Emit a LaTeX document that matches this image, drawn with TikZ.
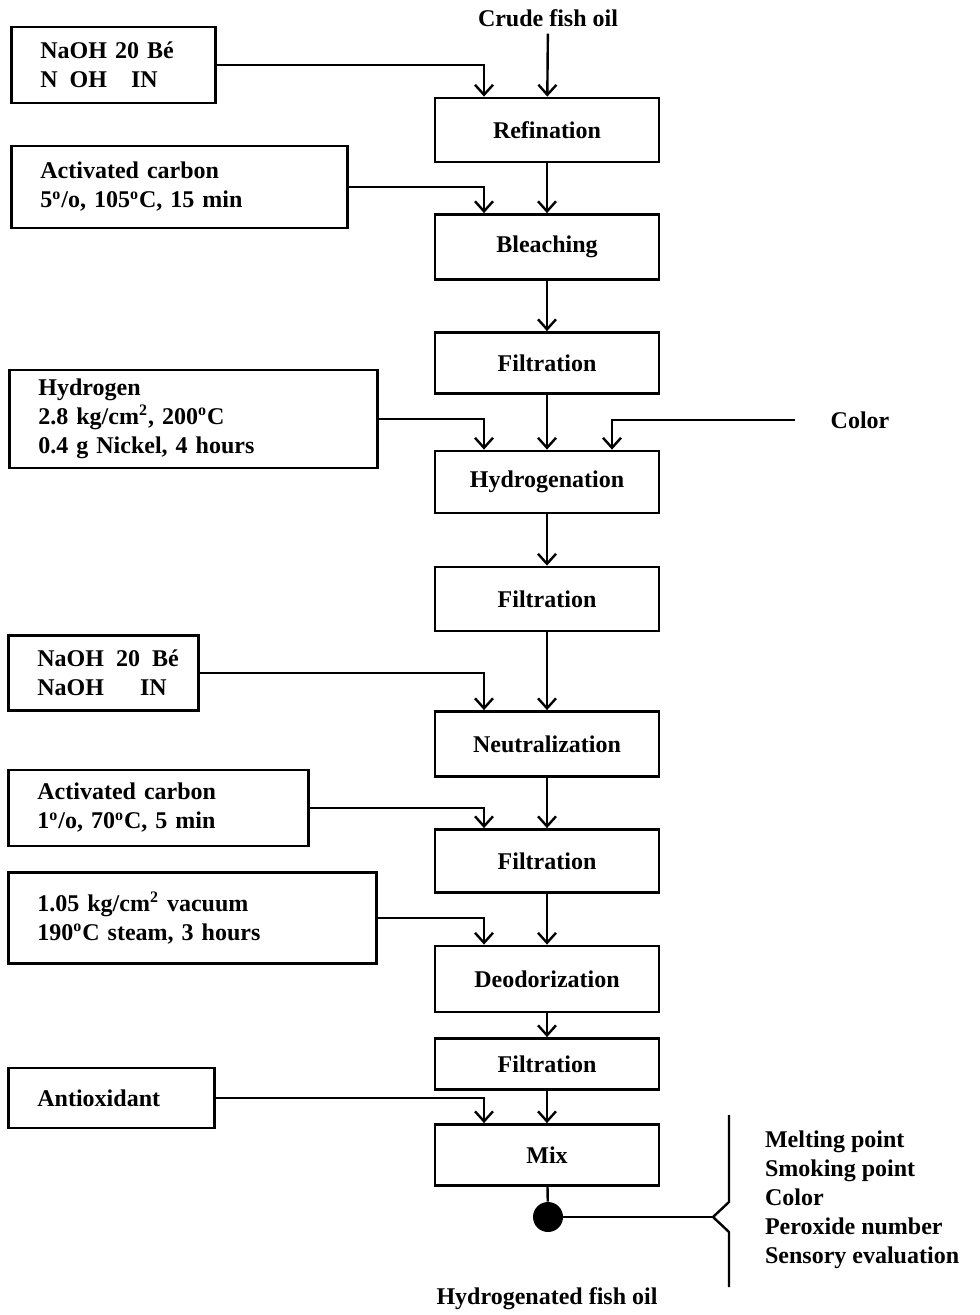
\documentclass[tikz,border=0pt]{standalone}
\usepackage{fontspec}
\setmainfont{Liberation Serif}
\usetikzlibrary{arrows.meta}
\begin{document}
\begin{tikzpicture}[x=0.5pt,y=-0.5pt,
  every node/.style={font=\fontsize{12}{14.5}\selectfont\bfseries},
  stepbox/.style={draw,line width=1.4pt,minimum width=112pt,minimum height=32pt,inner sep=0pt},
  inbox/.style={draw,line width=1.4pt,anchor=west,align=left,inner xsep=14.5pt,inner ysep=0pt},
  flow/.style={line width=1.2pt,-{Straight Barb[length=5pt,width=9pt,line width=1.2pt]}},
  line/.style={line width=1.2pt}]
\useasboundingbox (0,0) rectangle (979,1315);

\node (crude) at (548,18) {Crude fish oil};
\node[stepbox] (refin) at (547,130) {Refination};
\node[stepbox,minimum height=32.5pt] (bleach) at (547,247) {Bleaching};
\node[stepbox,minimum height=30.5pt] (filt1) at (547,363) {Filtration};
\node[stepbox,minimum height=31pt] (hydro) at (547,482) {Hydrogenation};
\node[stepbox] (filt2) at (547,599) {Filtration};
\node[stepbox,minimum height=32.5pt] (neutr) at (547,744) {Neutralization};
\node[stepbox,minimum height=31.5pt] (filt3) at (547,861) {Filtration};
\node[stepbox,minimum height=33pt] (deodor) at (547,979) {Deodorization};
\node[stepbox,minimum height=25.5pt] (filt4) at (547,1064) {Filtration};
\node[stepbox,minimum height=30.5pt] (mix) at (547,1155) {Mix};
\node[circle,fill,inner sep=0pt,minimum size=15pt] (dot) at (548,1217) {};
\node (product) at (547,1299) {Hydrogenated fish oil};

\node[inbox,text width=73pt,minimum height=38pt] (naoha) at (10,65) {NaOH 20 B\'e\\N\enspace OH\quad IN};
\node[inbox,text width=139pt,minimum height=41pt] (carbona) at (10,187) {Activated carbon\\5\textsuperscript{o}/o, 105\textsuperscript{o}C, 15 min};
\node[inbox,text width=155pt,minimum height=49pt] (hydrogen) at (8,419) {Hydrogen\\2.8 kg/cm\textsuperscript{2}, 200\textsuperscript{o}C\\0.4 g Nickel, 4 hours};
\node[inbox,text width=66pt,minimum height=37.5pt] (naohb) at (7,673) {NaOH\enspace 20\enspace B\'e\\NaOH\quad\enspace IN};
\node[inbox,text width=121pt,minimum height=38pt] (carbonb) at (7,808) {Activated carbon\\1\textsuperscript{o}/o, 70\textsuperscript{o}C, 5 min};
\node[inbox,text width=155pt,minimum height=45.5pt] (vacuum) at (7,918) {1.05 kg/cm\textsuperscript{2} vacuum\\190\textsuperscript{o}C steam, 3 hours};
\node[inbox,text width=74pt,minimum height=30pt] (antiox) at (7,1098) {Antioxidant};

\node (color) at (860,420) {Color};
\coordinate (colorin) at (795,420);
\coordinate (brace) at (713,1217);
\node[anchor=west,align=left] (tests) at (758,1200) {Melting point\\Smoking point\\Color\\Peroxide number\\Sensory evaluation};

\draw[flow] (crude) -- (refin);
\draw[flow] (refin) -- (bleach);
\draw[flow] (bleach) -- (filt1);
\draw[flow] (filt1) -- (hydro);
\draw[flow] (hydro) -- (filt2);
\draw[flow] (filt2) -- (neutr);
\draw[flow] (neutr) -- (filt3);
\draw[flow] (filt3) -- (deodor);
\draw[flow] (deodor) -- (filt4);
\draw[flow] (filt4) -- (mix);
\draw[line] (mix) -- (dot);

\draw[flow] (naoha.east) -| ([xshift=-31.5pt]refin.north);
\draw[flow] (carbona.east) -| ([xshift=-31.5pt]bleach.north);
\draw[flow] (hydrogen.east) -| ([xshift=-31.5pt]hydro.north);
\draw[flow] (colorin) -| ([xshift=32.5pt]hydro.north);
\draw[flow] (naohb.east) -| ([xshift=-31.5pt]neutr.north);
\draw[flow] (carbonb.east) -| ([xshift=-31.5pt]filt3.north);
\draw[flow] (vacuum.east) -| ([xshift=-31.5pt]deodor.north);
\draw[flow] (antiox.east) -| ([xshift=-31.5pt]mix.north);

\draw[line] (dot) -- (brace);
\draw[line] (729,1115) -- (729,1202) -- (brace) -- (729,1232) -- (729,1287);
\end{tikzpicture}
\end{document}
